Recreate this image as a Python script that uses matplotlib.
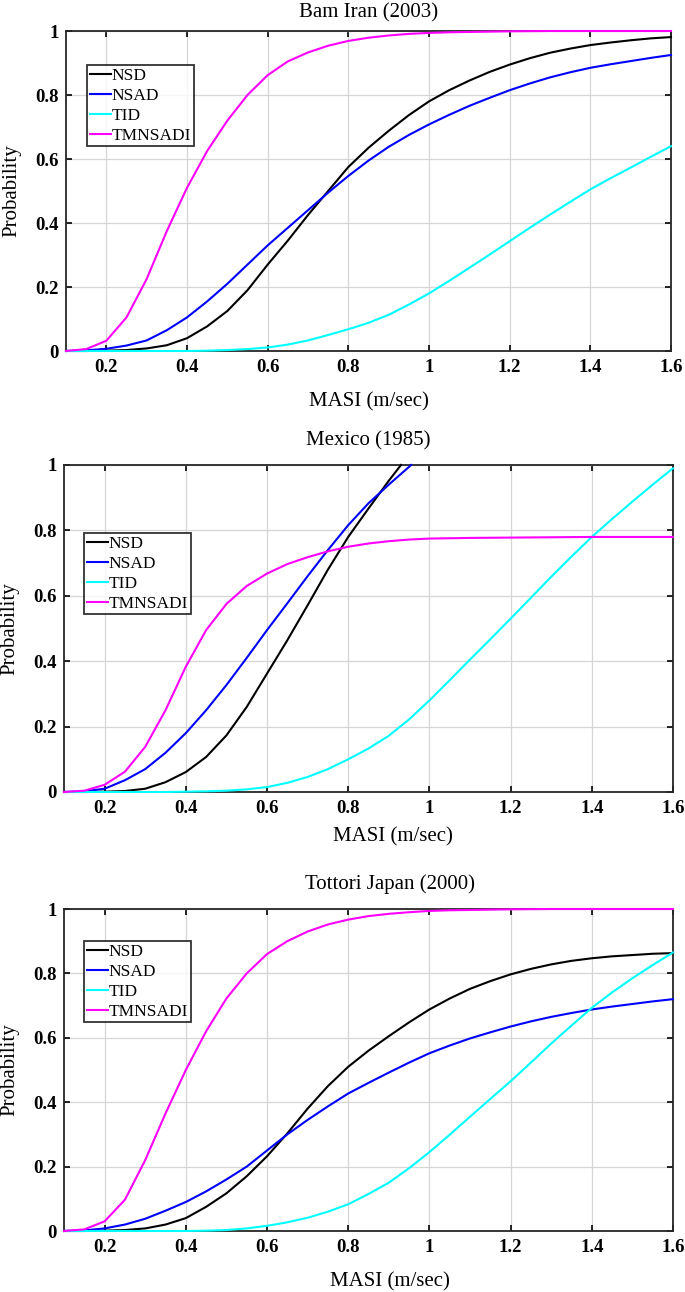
import matplotlib
matplotlib.use("Agg")
import matplotlib.pyplot as plt
from matplotlib.ticker import FixedLocator, FixedFormatter

plt.rcParams['font.family'] = ['Liberation Serif', 'DejaVu Serif']

# ---------------- data ----------------
X = [0.1, 0.15, 0.2, 0.25, 0.3, 0.35, 0.4, 0.45, 0.5, 0.55, 0.6, 0.65, 0.7,
     0.75, 0.8, 0.85, 0.9, 0.95, 1.0, 1.05, 1.1, 1.15, 1.2, 1.25, 1.3, 1.35,
     1.4, 1.45, 1.5, 1.55, 1.6]

# Bam Iran (2003)
bam_nsd = [0, 0, 0.001, 0.003, 0.008, 0.018, 0.04, 0.077, 0.125, 0.19, 0.27, 0.345, 0.425,
           0.50, 0.575, 0.635, 0.688, 0.737, 0.78, 0.815, 0.845, 0.872, 0.895, 0.915,
           0.932, 0.945, 0.956, 0.964, 0.971, 0.977, 0.981]
bam_nsad = [0, 0.002, 0.007, 0.017, 0.033, 0.065, 0.105, 0.155, 0.21, 0.27, 0.33, 0.385, 0.44,
            0.495, 0.547, 0.595, 0.638, 0.675, 0.708, 0.738, 0.766, 0.791, 0.815, 0.836,
            0.855, 0.871, 0.885, 0.896, 0.906, 0.916, 0.925]
bam_tid = [0, 0, 0, 0, 0, 0, 0, 0.001, 0.003, 0.006, 0.011, 0.02, 0.033,
           0.05, 0.068, 0.088, 0.113, 0.145, 0.18, 0.219, 0.26, 0.301, 0.343, 0.385,
           0.426, 0.466, 0.505, 0.54, 0.573, 0.607, 0.64]
bam_tmn = [0, 0.006, 0.032, 0.105, 0.225, 0.375, 0.51, 0.625, 0.72, 0.80, 0.862, 0.905, 0.933,
           0.954, 0.969, 0.979, 0.986, 0.991, 0.994, 0.996, 0.997, 0.998, 0.999, 0.9995,
           1.0, 1.0, 1.0, 1.0, 1.0, 1.0, 1.0]

# Mexico (1985)
mex_nsd_x = [0.1, 0.15, 0.2, 0.25, 0.3, 0.35, 0.4, 0.45, 0.5, 0.55, 0.6, 0.65, 0.7,
             0.75, 0.8, 0.85, 0.9, 0.93]
mex_nsd = [0, 0, 0.001, 0.003, 0.01, 0.03, 0.061, 0.107, 0.173, 0.26, 0.362, 0.464, 0.571,
           0.68, 0.78, 0.867, 0.952, 1.0]
mex_nsad_x = [0.1, 0.15, 0.2, 0.25, 0.3, 0.35, 0.4, 0.45, 0.5, 0.55, 0.6, 0.65, 0.7,
              0.75, 0.8, 0.85, 0.9, 0.955]
mex_nsad = [0, 0.002, 0.01, 0.036, 0.07, 0.12, 0.18, 0.25, 0.327, 0.41, 0.495, 0.577, 0.66,
            0.74, 0.816, 0.883, 0.94, 1.0]
mex_tid = [0, 0, 0, 0, 0, 0, 0.001, 0.002, 0.004, 0.008, 0.015, 0.028, 0.046,
           0.07, 0.10, 0.133, 0.172, 0.222, 0.28, 0.342, 0.405, 0.467, 0.53, 0.594,
           0.658, 0.72, 0.78, 0.835, 0.888, 0.94, 0.99]
mex_tmn = [0, 0.004, 0.022, 0.062, 0.138, 0.25, 0.383, 0.495, 0.575, 0.63, 0.668, 0.697, 0.718,
           0.736, 0.75, 0.76, 0.767, 0.772, 0.775, 0.776, 0.777, 0.7775, 0.778, 0.7785,
           0.779, 0.7795, 0.78, 0.78, 0.78, 0.78, 0.78]

# Tottori Japan (2000)
tot_nsd = [0, 0, 0.001, 0.003, 0.008, 0.02, 0.04, 0.075, 0.117, 0.17, 0.232, 0.303, 0.38,
           0.45, 0.51, 0.56, 0.605, 0.648, 0.688, 0.722, 0.752, 0.776, 0.797, 0.814,
           0.828, 0.839, 0.847, 0.853, 0.857, 0.861, 0.863]
tot_nsad = [0, 0.002, 0.008, 0.02, 0.038, 0.063, 0.09, 0.123, 0.16, 0.2, 0.25, 0.3, 0.345,
            0.387, 0.427, 0.46, 0.492, 0.523, 0.552, 0.576, 0.598, 0.617, 0.635, 0.651,
            0.665, 0.677, 0.688, 0.697, 0.705, 0.713, 0.72]
tot_tid = [0, 0, 0, 0, 0, 0, 0, 0.001, 0.003, 0.008, 0.016, 0.027, 0.041,
           0.06, 0.083, 0.115, 0.15, 0.195, 0.245, 0.299, 0.355, 0.41, 0.465, 0.523,
           0.582, 0.638, 0.693, 0.741, 0.785, 0.826, 0.865]
tot_tmn = [0, 0.005, 0.03, 0.097, 0.22, 0.365, 0.50, 0.62, 0.722, 0.80, 0.86, 0.90, 0.93,
           0.952, 0.967, 0.978, 0.985, 0.99, 0.994, 0.996, 0.997, 0.998, 0.999, 0.9995,
           1.0, 1.0, 1.0, 1.0, 1.0, 1.0, 1.0]

series_names = ['NSD', 'NSAD', 'TID', 'TMNSADI']
titles = ['Bam Iran (2003)', 'Mexico (1985)', 'Tottori Japan (2000)']
xtick_vals = [0.2, 0.4, 0.6, 0.8, 1.0, 1.2, 1.4, 1.6]
xtick_labels = ['0.2', '0.4', '0.6', '0.8', '1', '1.2', '1.4', '1.6']
ytick_vals = [0, 0.2, 0.4, 0.6, 0.8, 1.0]
ytick_labels = ['0', '0.2', '0.4', '0.6', '0.8', '1']
xlabel = 'MASI (m/sec)'
ylabel = 'Probability'

panels = [
    [(X, bam_nsd), (X, bam_nsad), (X, bam_tid), (X, bam_tmn)],
    [(mex_nsd_x, mex_nsd), (mex_nsad_x, mex_nsad), (X, mex_tid), (X, mex_tmn)],
    [(X, tot_nsd), (X, tot_nsad), (X, tot_tid), (X, tot_tmn)],
]

# ---------------- layout ----------------
W, H = 685, 1292
colors = ['#000000', '#0000ff', '#00ffff', '#ff00ff']
# axes boxes in pixels: left, top, right, bottom
boxes = [(66, 31, 671, 351), (64, 465, 673, 792), (64, 909, 673, 1231)]
legend_anchor = [(0.035, 0.894), (0.033, 0.792), (0.033, 0.90)]
title_pos = [(0.50, 1.058), (0.50, 1.073), (0.535, 1.078)]
xlabel_pos = [(0.50, -0.158), (0.54, -0.137), (0.535, -0.158)]

fig = plt.figure(figsize=(W / 100, H / 100), dpi=100)

for i, series in enumerate(panels):
    l, t, r, b = boxes[i]
    ax = fig.add_axes([l / W, 1 - b / H, (r - l) / W, (b - t) / H])
    for (xs, ys), c, name in zip(series, colors, series_names):
        ax.plot(xs, ys, color=c, lw=1.5, label=name, clip_on=False, zorder=3,
                solid_joinstyle='round')
    ax.set_xlim(0.1, 1.6)
    ax.set_ylim(0, 1)
    ax.xaxis.set_major_locator(FixedLocator(xtick_vals))
    ax.xaxis.set_major_formatter(FixedFormatter(xtick_labels))
    ax.yaxis.set_major_locator(FixedLocator(ytick_vals))
    ax.yaxis.set_major_formatter(FixedFormatter(ytick_labels))
    ax.tick_params(direction='in', length=4, width=1.2, top=True, right=True,
                   labelsize=13.5, colors='black')
    ax.tick_params(axis='x', pad=6)
    ax.tick_params(axis='y', pad=5)
    for lab in ax.get_xticklabels() + ax.get_yticklabels():
        lab.set_fontweight('bold')
    ax.grid(True, color='#d6d6d6', lw=0.9)
    ax.set_axisbelow(True)
    for sp in ax.spines.values():
        sp.set_linewidth(1.3)
        sp.set_color('#262626')
        sp.set_zorder(2.5)
    ax.set_xlabel(xlabel, fontsize=15)
    ax.xaxis.set_label_coords(*xlabel_pos[i])
    ax.xaxis.label.set_va('center')
    ax.set_ylabel(ylabel, fontsize=15)
    ax.yaxis.set_label_coords(-0.089, 0.5)
    ax.yaxis.label.set_va('center')
    ax.text(title_pos[i][0], title_pos[i][1], titles[i], transform=ax.transAxes,
            ha='center', va='center', fontsize=15)
    leg = ax.legend(loc='upper left', bbox_to_anchor=legend_anchor[i], fontsize=12.5,
                    frameon=True, fancybox=False, borderpad=0.15, borderaxespad=0,
                    handlelength=1.2, handletextpad=0.05, labelspacing=0.22)
    leg.get_frame().set_edgecolor('black')
    leg.get_frame().set_linewidth(1.3)
    leg.set_zorder(5)

fig.savefig('out.png', dpi=100)
